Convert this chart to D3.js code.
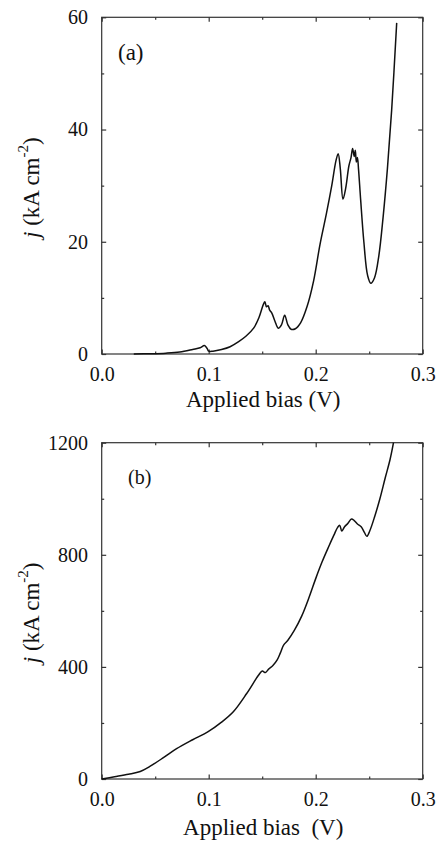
<!DOCTYPE html>
<html>
<head>
<meta charset="utf-8">
<script src="https://cdn.jsdelivr.net/npm/d3@7"></script>
<style>
  body { margin: 0; background: #fff; }
  text { font-family: "Liberation Serif", "Times New Roman", serif; fill: #111; }
</style>
</head>
<body>
<div id="chart"></div>
<script>
// panel (a): current density in kA/cm^2 vs applied bias
var biasA = [0.030, 0.045, 0.060, 0.073, 0.085, 0.092, 0.096, 0.0985, 0.100, 0.104, 0.112, 0.120,
  0.128, 0.135, 0.142, 0.147, 0.151, 0.1525, 0.154, 0.1555, 0.157, 0.159, 0.162, 0.165, 0.168, 0.171,
  0.174, 0.177, 0.181, 0.186, 0.192, 0.198, 0.204, 0.210, 0.215, 0.219, 0.221, 0.223, 0.2255, 0.228,
  0.231, 0.233, 0.2345, 0.236, 0.237, 0.238, 0.239, 0.240, 0.242, 0.245, 0.2485, 0.2515, 0.255, 0.259,
  0.263, 0.267, 0.271, 0.2757];
var jA = [0.0, 0.05, 0.15, 0.35, 0.8, 1.1, 1.5, 1.0, 0.5, 0.5, 0.8, 1.3,
  2.2, 3.2, 4.6, 6.5, 8.8, 9.3, 8.4, 8.6, 7.8, 7.3, 5.8, 4.6, 5.2, 6.9,
  5.2, 4.4, 4.5, 5.6, 8.5, 13.0, 19.5, 25.0, 30.0, 34.5, 35.7, 33.0, 27.6, 29.5,
  33.5, 35.0, 36.6, 35.2, 36.3, 34.2, 35.0, 33.0, 27.5, 20.0, 14.0, 12.6, 13.6, 17.5,
  24.4, 33.0, 43.5, 59.0];

// panel (b): current density in kA/cm^2 vs applied bias
var biasB = [0, 0.012, 0.025, 0.036, 0.045, 0.058, 0.070, 0.085, 0.0995, 0.112, 0.123, 0.1355,
  0.1465, 0.150, 0.153, 0.156, 0.160, 0.164, 0.167, 0.170, 0.174, 0.180, 0.187, 0.194, 0.200,
  0.206, 0.212, 0.217, 0.2205, 0.2225, 0.2243, 0.227, 0.230, 0.2335, 0.236, 0.239, 0.2425,
  0.2455, 0.2478, 0.2505, 0.255, 0.260, 0.265, 0.2695, 0.2727];
var jB = [0, 8, 17, 27, 45, 77, 108, 140, 169, 203, 240, 305,
  370, 385, 380, 392, 405, 425, 450, 478, 495, 530, 582, 650, 715,
  775, 828, 870, 898, 905, 885, 900, 912, 928, 922, 910, 900,
  880, 866, 885, 935, 1000, 1075, 1140, 1200];

var xTicks = [0.0, 0.1, 0.2, 0.3];
var xMinor = [0.05, 0.15, 0.25];
var yTicksA = [0, 20, 40, 60];
var yMinorA = [10, 30, 50];
var yTicksB = [0, 400, 800, 1200];
var yMinorB = [200, 600, 1000];

var W = 436, H = 843;
var svg = d3.select("#chart").append("svg")
  .attr("width", W).attr("height", H);

var left = 101.7, right = 422.7;

function panel(opt) {
  var x = d3.scaleLinear().domain([0, 0.3]).range([left, right]);
  var y = d3.scaleLinear().domain(opt.yDomain).range([opt.bottom, opt.top]);
  var g = svg.append("g");

  // frame
  g.append("rect")
    .attr("x", left).attr("y", opt.top)
    .attr("width", right - left).attr("height", opt.bottom - opt.top)
    .attr("fill", "none").attr("stroke", "#333").attr("stroke-width", 1.2);

  // bottom axis with labels, ticks pointing inward
  var xb = g.append("g").attr("transform", "translate(0," + opt.bottom + ")")
    .call(d3.axisBottom(x).tickValues(xTicks).tickSize(-4.5).tickPadding(13)
      .tickFormat(d3.format(".1f")));
  xb.select(".domain").remove();
  xb.selectAll("text").style("font-size", "20px");
  g.append("g").attr("transform", "translate(0," + opt.bottom + ")")
    .call(d3.axisBottom(x).tickValues(xMinor).tickSize(-2.5).tickFormat(""))
    .select(".domain").remove();
  // top ticks
  g.append("g").attr("transform", "translate(0," + opt.top + ")")
    .call(d3.axisTop(x).tickValues(xTicks).tickSize(-4.5).tickFormat(""))
    .select(".domain").remove();
  g.append("g").attr("transform", "translate(0," + opt.top + ")")
    .call(d3.axisTop(x).tickValues(xMinor).tickSize(-2.5).tickFormat(""))
    .select(".domain").remove();

  // left axis with labels
  var yl = g.append("g").attr("transform", "translate(" + left + ",0)")
    .call(d3.axisLeft(y).tickValues(opt.yTicks).tickSize(-4.5).tickPadding(13.7)
      .tickFormat(d3.format("d")));
  yl.select(".domain").remove();
  yl.selectAll("text").style("font-size", "20px");
  g.append("g").attr("transform", "translate(" + left + ",0)")
    .call(d3.axisLeft(y).tickValues(opt.yMinor).tickSize(-2.5).tickFormat(""))
    .select(".domain").remove();
  // right ticks
  g.append("g").attr("transform", "translate(" + right + ",0)")
    .call(d3.axisRight(y).tickValues(opt.yTicks).tickSize(-4.5).tickFormat(""))
    .select(".domain").remove();
  g.append("g").attr("transform", "translate(" + right + ",0)")
    .call(d3.axisRight(y).tickValues(opt.yMinor).tickSize(-2.5).tickFormat(""))
    .select(".domain").remove();

  g.selectAll(".tick line").attr("stroke", "#333").attr("stroke-width", 1.2);
  g.selectAll(".tick text").attr("fill", "#111");

  // curve
  var pts = opt.xs.map(function(d, i) { return [d, opt.ys[i]]; });
  var line = d3.line()
    .x(function(d) { return x(d[0]); })
    .y(function(d) { return y(d[1]); })
    .curve(d3.curveCatmullRom.alpha(0.5));
  g.append("path").datum(pts)
    .attr("d", line)
    .attr("fill", "none").attr("stroke", "#111")
    .attr("stroke-width", 1.5).attr("stroke-linejoin", "round");

  // x title
  g.append("text")
    .attr("x", (left + right) / 2 + 1)
    .attr("y", opt.titleY)
    .attr("text-anchor", "middle")
    .style("font-size", "23px")
    .style("white-space", "pre")
    .text(opt.xTitle);

  // y title, rotated
  var cy = (opt.top + opt.bottom) / 2 + 2;
  var yt = g.append("text")
    .attr("transform", "translate(39," + cy + ") rotate(-90)")
    .attr("text-anchor", "middle")
    .style("font-size", "23px");
  yt.append("tspan").style("font-style", "italic").text("j");
  yt.append("tspan").text(" (kA cm");
  yt.append("tspan").attr("dy", -11).style("font-size", "15px").text("-2");
  yt.append("tspan").attr("dy", 11).text(")");

  // panel tag
  g.append("text")
    .attr("x", opt.tagX).attr("y", opt.tagY)
    .style("font-size", opt.tagSize)
    .text(opt.tag);
}

panel({
  top: 17.3, bottom: 354, yDomain: [0, 60],
  yTicks: yTicksA, yMinor: yMinorA, xs: biasA, ys: jA,
  xTitle: "Applied bias (V)", titleY: 406.5,
  tag: "(a)", tagX: 118, tagY: 60, tagSize: "23px"
});

panel({
  top: 442.7, bottom: 779, yDomain: [0, 1200],
  yTicks: yTicksB, yMinor: yMinorB, xs: biasB, ys: jB,
  xTitle: "Applied bias  (V)", titleY: 835,
  tag: "(b)", tagX: 128, tagY: 484, tagSize: "20px"
});
</script>
</body>
</html>
